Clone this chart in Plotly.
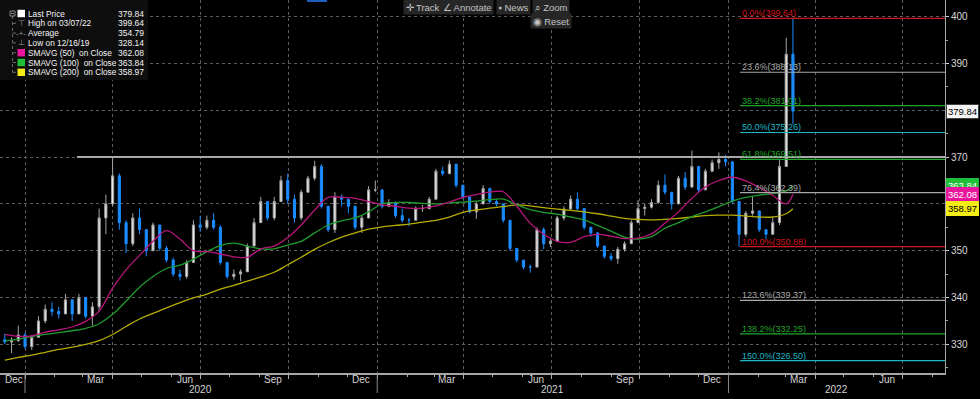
import pandas as pd
import plotly.graph_objects as go

# ---------------- data (weekly candles) ----------------
week_start = "2019-12-11"          # Wednesday of first week (candle centre)
first_open = 331.0
closes = [330.5, 330.8, 332.0, 329.5, 331.5, 335.0, 337.5, 337.0, 336.5, 339.5,
          336.5, 340.0, 336.0, 338.0, 357.0, 360.0, 366.0, 356.0, 351.5, 357.0,
          354.5, 350.0, 355.5, 350.5, 348.0, 345.0, 344.5, 347.5, 355.5, 355.0,
          356.5, 355.0, 347.5, 344.5, 345.0, 345.5, 351.0, 356.0, 360.5, 357.0,
          360.5, 365.0, 361.0, 357.0, 362.5, 365.5, 368.0, 359.5, 354.5, 361.5,
          361.0, 359.5, 355.0, 357.0, 363.0, 363.0, 359.5, 360.3, 357.5, 356.5,
          356.5, 359.0, 359.0, 361.0, 367.0, 366.5, 368.5, 364.0, 361.5, 358.3,
          360.0, 363.3, 360.5, 360.0, 356.5, 350.5, 348.0, 346.5, 346.5, 354.5,
          351.5, 352.0, 357.0, 358.9, 361.0, 359.0, 355.0, 353.8, 351.0, 348.8,
          348.3, 350.3, 351.5, 356.0, 359.0, 359.3, 360.3, 364.0, 362.5, 360.0,
          365.5, 363.6, 368.0, 363.0, 367.0, 368.8, 369.5, 369.0, 360.5, 353.5,
          358.0, 358.5, 354.5, 353.5, 356.0, 368.0, 392.0, 379.84]
highs = [332.3, 331.5, 334.0, 332.5, 332.0, 336.0, 338.5, 339.0, 338.0, 340.8,
         339.5, 340.8, 340.0, 339.0, 359.0, 362.0, 369.8, 366.5, 356.5, 358.0,
         359.0, 354.5, 356.0, 355.5, 351.0, 348.5, 346.0, 348.0, 356.5, 357.5,
         357.5, 358.0, 355.5, 347.5, 346.0, 346.0, 351.5, 357.0, 361.5, 360.5,
         361.5, 366.0, 366.5, 362.0, 363.0, 366.0, 369.2, 368.5, 359.5, 362.5,
         362.0, 361.0, 359.5, 357.5, 363.8, 365.0, 363.0, 361.0, 360.5, 359.0,
         357.0, 359.5, 359.8, 361.5, 367.5, 368.0, 369.3, 368.5, 364.0, 361.5,
         360.5, 364.0, 363.5, 361.0, 360.0, 356.5, 350.5, 348.0, 347.0, 355.0,
         355.0, 352.8, 357.5, 359.5, 361.8, 362.5, 359.0, 355.0, 354.0, 351.0,
         349.5, 350.8, 352.0, 356.5, 360.8, 360.0, 361.0, 365.0, 366.3, 362.5,
         366.0, 366.8, 371.4, 368.0, 367.5, 369.5, 371.0, 370.5, 369.0, 360.5,
         358.5, 361.5, 358.5, 354.5, 357.0, 369.5, 395.5, 399.64]
lows = [330.0, 328.14, 330.5, 329.0, 328.8, 331.5, 334.5, 336.0, 335.5, 336.5,
        335.0, 336.5, 335.5, 334.0, 337.0, 353.5, 359.5, 354.5, 349.5, 351.0,
        353.5, 348.8, 350.0, 350.0, 347.5, 344.5, 343.6, 344.0, 347.5, 354.0,
        354.5, 354.5, 347.0, 344.0, 343.8, 343.5, 345.5, 351.0, 356.0, 356.5,
        356.5, 360.5, 360.0, 356.0, 356.5, 362.5, 365.0, 359.0, 354.0, 353.8,
        359.5, 358.0, 354.5, 353.8, 357.0, 362.5, 359.0, 359.3, 357.0, 356.0,
        355.2, 356.5, 358.3, 358.8, 361.0, 366.0, 366.3, 363.5, 361.0, 358.0,
        356.8, 360.0, 360.0, 359.5, 356.0, 350.0, 347.5, 346.0, 345.3, 346.5,
        350.3, 350.8, 352.0, 356.5, 358.8, 358.5, 354.5, 353.0, 350.6, 348.3,
        347.8, 347.2, 349.8, 351.5, 356.0, 357.5, 359.0, 360.0, 362.0, 358.8,
        360.0, 363.0, 363.5, 362.5, 363.0, 366.8, 367.5, 368.0, 360.0, 350.88,
        353.0, 357.5, 354.0, 352.5, 353.5, 355.5, 368.0, 377.0]

# moving averages, read every second week (+ last day)
sma50 = [332.1, 331.7, 331.8, 332.6, 333.1, 333.7, 334.9, 337.1, 342.0, 345.9,
         349.0, 352.0, 354.3, 352.5, 350.0, 349.8, 349.3, 348.7, 348.6, 350.4,
         351.0, 352.8, 355.5, 358.7, 361.4, 361.4, 361.2, 360.5, 359.8, 359.5,
         359.1, 359.1, 359.6, 360.4, 361.4, 362.0, 362.5, 362.6, 359.5, 355.9,
         353.5, 352.0, 351.8, 353.0, 353.5, 353.1, 352.6, 352.7, 353.6, 355.9,
         358.3, 361.2, 363.6, 365.0, 365.7, 364.9, 363.5, 361.8, 360.0, 362.08]
sma100 = [330.7, 331.1, 331.7, 332.1, 332.5, 332.9, 333.4, 334.4, 336.4, 339.2,
          342.2, 344.5, 346.2, 346.9, 348.2, 349.8, 351.1, 351.6, 351.0, 350.4,
          350.4, 351.2, 352.0, 353.8, 355.5, 356.4, 357.0, 358.3, 360.0, 360.3,
          360.3, 360.1, 360.0, 360.2, 360.4, 360.6, 360.9, 361.0, 359.8, 358.8,
          358.2, 357.8, 357.2, 356.6, 355.4, 354.2, 352.9, 352.5, 353.0, 354.8,
          356.0, 357.3, 358.3, 359.4, 360.6, 361.4, 361.9, 362.2, 362.8, 363.84]
sma200 = [326.6, 327.2, 327.7, 328.3, 328.9, 329.4, 330.0, 330.8, 332.1, 333.8,
          335.4, 336.6, 337.8, 338.9, 339.9, 340.7, 341.8, 342.6, 343.5, 344.4,
          345.4, 347.0, 348.6, 350.3, 351.7, 352.9, 353.8, 354.6, 355.1, 355.4,
          355.7, 356.1, 356.5, 357.2, 358.2, 358.7, 359.1, 359.4, 359.8, 359.6,
          359.2, 358.9, 358.6, 358.3, 357.9, 357.4, 356.9, 356.7, 356.6, 356.7,
          356.9, 357.2, 357.5, 357.6, 357.6, 357.4, 357.2, 357.2, 357.9, 358.97]
average_price = 354.79
high_date_label = "03/07/22"
low_date_label = "12/16/19"

fib_start = "2022-01-13"
fib_labels = ["0.0%", "23.6%", "38.2%", "50.0%", "61.8%", "76.4%",
              "100.0%", "123.6%", "138.2%", "150.0%"]
fib_values = [399.64, 388.13, 381.01, 375.26, 369.51, 362.39,
              350.88, 339.37, 332.25, 326.50]
trend_start = "2020-02-24"
trend_level = 370.0

x_range = ["2019-12-06", "2022-08-14"]
y_range = [323.87, 403.57]
y_ticks = [330, 340, 350, 360, 370, 380, 390, 400]
grid_dates = ["2020-01-01", "2020-04-01", "2020-07-01", "2020-10-01",
              "2021-01-01", "2021-04-01", "2021-07-01", "2021-10-01",
              "2022-01-01", "2022-04-01", "2022-07-01"]
month_label_dates = ["2019-12-15", "2020-03-15", "2020-06-15", "2020-09-15",
                     "2020-12-15", "2021-03-15", "2021-06-15", "2021-09-15",
                     "2021-12-15", "2022-03-15", "2022-06-15"]
month_labels = ["Dec", "Mar", "Jun", "Sep", "Dec", "Mar", "Jun", "Sep",
                "Dec", "Mar", "Jun"]
year_labels = ["2020", "2021", "2022"]
year_label_dates = ["2020-07-01", "2021-07-02", "2022-04-23"]
year_sep_dates = ["2020-01-01", "2021-01-01", "2022-01-01"]

# ---------------- styling ----------------
RED, GRAY, GREEN, CYAN = "#d0161a", "#a9a9a9", "#22a52a", "#1fb8c6"
fib_colors = [RED, GRAY, GREEN, CYAN, GREEN, GRAY, RED, GRAY, GREEN, CYAN]
MAG_LINE, GRN_LINE, YEL_LINE = "#b8157c", "#1f9a2e", "#b5ad00"
MAG_BOX, GRN_BOX, YEL_BOX = "#e8169c", "#1fbf3a", "#f3ec16"
FONT = "Liberation Sans, Arial, sans-serif"
W, H = 980, 399
ML, MR, MT, MB = 0, 35, 0, 26
PW, PH = W - ML - MR, H - MT - MB


def px(x):
    return x / PW


def py(y):
    return 1 - y / PH


dates = pd.date_range(week_start, periods=len(closes), freq="7D")
opens = [first_open] + closes[:-1]
ma_dates = list(dates[::2]) + [dates[-1]]

fig = go.Figure()
fig.add_trace(go.Candlestick(
    x=dates, open=opens, high=highs, low=lows, close=closes,
    increasing=dict(line=dict(color="#a4a4a4", width=1), fillcolor="#ececec"),
    decreasing=dict(line=dict(color="#1b8cff", width=1), fillcolor="#1b8cff"),
    whiskerwidth=0, showlegend=False, hoverinfo="skip"))
for vals, col in [(sma200, YEL_LINE), (sma100, GRN_LINE), (sma50, MAG_LINE)]:
    fig.add_trace(go.Scatter(x=ma_dates, y=vals, mode="lines",
                             line=dict(color=col, width=1.3, shape="spline"),
                             showlegend=False, hoverinfo="skip"))

shapes = []
annotations = []

# trend line and fibonacci levels
shapes.append(dict(type="line", xref="x", yref="y", x0=trend_start, x1=x_range[1],
                   y0=trend_level, y1=trend_level, line=dict(color="#a8a8a8", width=2)))
for lab, val, col in zip(fib_labels, fib_values, fib_colors):
    shapes.append(dict(type="line", xref="x", yref="y", x0=fib_start, x1=x_range[1],
                       y0=val, y1=val, line=dict(color=col, width=1.2)))
    annotations.append(dict(x=fib_start, y=val, xref="x", yref="y", xanchor="left",
                            yanchor="bottom", yshift=-2, showarrow=False,
                            text=f"{lab}({val:.2f})",
                            font=dict(color=col, size=9, family=FONT)))

# x labels
for d, lab in zip(month_label_dates, month_labels):
    annotations.append(dict(x=d, y=py(PH + 6), xref="x", yref="paper", showarrow=False,
                            text=lab, yanchor="middle",
                            xshift=5 if d == month_label_dates[0] else 0,
                            font=dict(color="#d4d4d4", size=10, family=FONT)))
for d, lab in zip(year_label_dates, year_labels):
    annotations.append(dict(x=d, y=py(PH + 16), xref="x", yref="paper", showarrow=False,
                            text=lab, yanchor="middle",
                            font=dict(color="#d4d4d4", size=10, family=FONT)))
for d in year_sep_dates:
    shapes.append(dict(type="line", xref="x", yref="paper", x0=d, x1=d,
                       y0=py(PH + 1), y1=py(PH + 20), line=dict(color="#8a8a8a", width=1)))

# right-hand value boxes
last_val = closes[-1]
right_boxes = [(sma100[-1], GRN_BOX, "white"), (sma50[-1], MAG_BOX, "white"),
               (sma200[-1], YEL_BOX, "black"), (last_val, "#f4f4f4", "black")]
for val, bg, fc in right_boxes:
    annotations.append(dict(x=1, y=val, xref="paper", yref="y", xanchor="left",
                            yanchor="middle", xshift=1, showarrow=False,
                            text=f"{val:.2f}", bgcolor=bg, borderpad=1,
                            bordercolor="#404040" if bg == "#f4f4f4" else bg,
                            font=dict(color=fc, size=9.5, family=FONT)))

# legend panel (top left)
shapes.append(dict(type="rect", xref="paper", yref="paper", x0=px(0), x1=px(148),
                   y0=py(80), y1=py(0), fillcolor="#0e0e0e", line=dict(width=0),
                   layer="above"))
rows = [("Last Price", f"{last_val:.2f}", ("box", "#ffffff")),
        (f"High on {high_date_label}", f"{max(highs):.2f}", ("txt", "⊤")),
        ("Average", f"{average_price:.2f}", ("txt", "-+-")),
        (f"Low on {low_date_label}", f"{min(lows):.2f}", ("txt", "⊥")),
        ("SMAVG (50)  on Close", f"{sma50[-1]:.2f}", ("box", MAG_BOX)),
        ("SMAVG (100)  on Close", f"{sma100[-1]:.2f}", ("box", GRN_BOX)),
        ("SMAVG (200)  on Close", f"{sma200[-1]:.2f}", ("box", YEL_BOX))]
row_y0, row_dy = 13.5, 9.8
for k, (lab, val, icon) in enumerate(rows):
    yc = row_y0 + k * row_dy
    annotations.append(dict(x=px(27), y=py(yc), xref="paper", yref="paper",
                            xanchor="left", yanchor="middle", showarrow=False, text=lab,
                            borderpad=0,
                            font=dict(color="#f4f4f4", size=8.3, family=FONT)))
    annotations.append(dict(x=px(145), y=py(yc), xref="paper", yref="paper",
                            xanchor="right", yanchor="middle", showarrow=False, text=val,
                            borderpad=0,
                            font=dict(color="#f4f4f4", size=8.5, family=FONT)))
    if icon[0] == "box":
        shapes.append(dict(type="rect", xref="paper", yref="paper", x0=px(17.5),
                           x1=px(25), y0=py(yc + 3.7), y1=py(yc - 3.7),
                           fillcolor=icon[1], line=dict(width=0), layer="above"))
    else:
        annotations.append(dict(x=px(21), y=py(yc), xref="paper", yref="paper",
                                xanchor="center", yanchor="middle", showarrow=False,
                                text=icon[1], borderpad=0,
                                font=dict(color="#9a9a9a", size=8)))
    if k > 0:
        shapes.append(dict(type="line", xref="paper", yref="paper", x0=px(12.5),
                           x1=px(16), y0=py(yc), y1=py(yc),
                           line=dict(color="#6a6a6a", width=1), layer="above"))
shapes.append(dict(type="line", xref="paper", yref="paper", x0=px(12.5), x1=px(12.5),
                   y0=py(16), y1=py(row_y0 + 6 * row_dy),
                   line=dict(color="#6a6a6a", width=1, dash="dot"), layer="above"))
shapes.append(dict(type="rect", xref="paper", yref="paper", x0=px(10), x1=px(15),
                   y0=py(16), y1=py(11), line=dict(color="#8a8a8a", width=1),
                   layer="above"))
shapes.append(dict(type="line", xref="paper", yref="paper", x0=px(11), x1=px(14),
                   y0=py(13.5), y1=py(13.5), line=dict(color="#8a8a8a", width=1),
                   layer="above"))

# toolbar
tools = [("✛ Track", 422, 7), ("∠ Annotate", 467, 7), ("▪ News", 513, 7),
         ("⌕ Zoom", 551, 7), ("◉ Reset", 551, 21)]
for txt, cx, cy in tools:
    annotations.append(dict(x=px(cx), y=py(cy), xref="paper", yref="paper",
                            xanchor="center", yanchor="middle", showarrow=False,
                            text=txt, bgcolor="#262626", borderpad=1.5,
                            font=dict(color="#c4c4c4", size=9.5, family=FONT)))
shapes.append(dict(type="rect", xref="paper", yref="paper", x0=px(307), x1=px(327),
                   y0=py(2), y1=py(0), fillcolor="#1d5fbf", line=dict(width=0),
                   layer="above"))

fig.update_layout(
    width=W, height=H, margin=dict(l=ML, r=MR, t=MT, b=MB),
    paper_bgcolor="black", plot_bgcolor="black",
    font=dict(family=FONT, color="#d4d4d4", size=10),
    showlegend=False, shapes=shapes, annotations=annotations,
    boxgap=0.55, hovermode=False,
    xaxis=dict(type="date", range=x_range, rangeslider=dict(visible=False),
               tickmode="array", tickvals=grid_dates, showticklabels=False,
               ticks="outside", ticklen=4, tickcolor="#b0b0b0",
               showgrid=True, gridcolor="#5e5e5e", griddash="dot", gridwidth=1,
               showline=True, linecolor="#a6a6a6", linewidth=2, zeroline=False,
               minor=dict(ticks="outside", ticklen=2, tickcolor="#b0b0b0",
                          dtick="M1", tick0="2020-01-01", showgrid=False)),
    yaxis=dict(side="right", range=y_range, tickmode="array", tickvals=y_ticks,
               ticks="outside", ticklen=3, tickcolor="#d0d0d0",
               showgrid=True, gridcolor="#5e5e5e", griddash="dot", gridwidth=1,
               showline=True, linecolor="#a6a6a6", linewidth=1, zeroline=False,
               tickfont=dict(color="#d8d8d8", size=10, family=FONT),
               minor=dict(dtick=5, ticks="outside", ticklen=2, tickcolor="#a0a0a0",
                          showgrid=False)),
)
fig.write_html("out.html", config={"displayModeBar": False},
               post_script="document.body.style.margin='0';"
                           "document.body.style.background='black';")
